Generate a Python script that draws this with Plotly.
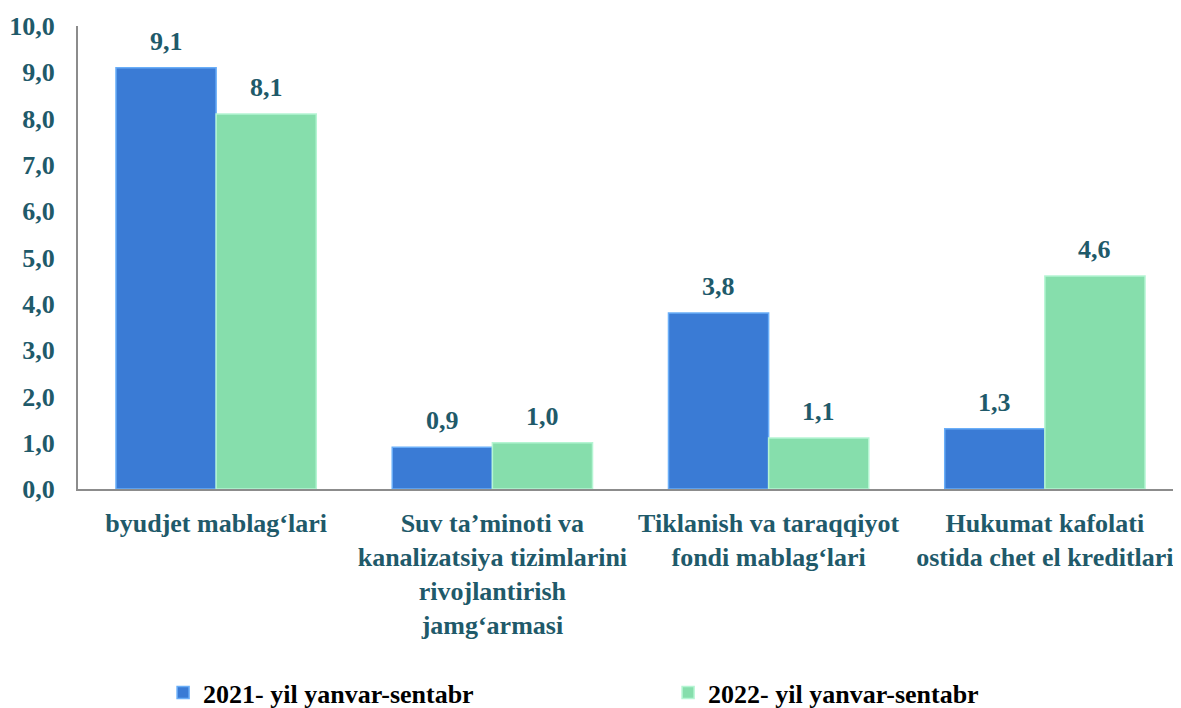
import plotly.graph_objects as go

categories = [
    "byudjet mablag‘lari",
    "Suv ta’minoti va<br>kanalizatsiya tizimlarini<br>rivojlantirish<br>jamg‘armasi",
    "Tiklanish va taraqqiyot<br>fondi mablag‘lari",
    "Hukumat kafolati<br>ostida chet el kreditlari",
]
series_names = ["2021- yil yanvar-sentabr", "2022- yil yanvar-sentabr"]
values_2021 = [9.1, 0.9, 3.8, 1.3]
values_2022 = [8.1, 1.0, 1.1, 4.6]
y_ticks = [0, 1, 2, 3, 4, 5, 6, 7, 8, 9, 10]

TEAL = "#1F5A6A"
FONT = "Liberation Serif"
FS = 26
colors = ["#3A7BD5", "#86DEAC"]
edge = ["#6AAEF8", "#B5F5D3"]

fig = go.Figure()
for name, vals, c, e in zip(series_names, [values_2021, values_2022], colors, edge):
    fig.add_trace(go.Bar(
        x=list(range(len(categories))), y=vals, name=f"<b>{name}</b>",
        marker=dict(color=c, line=dict(color=e, width=1.5)),
    ))

# value labels
for i, vals in enumerate([values_2021, values_2022]):
    shift = -50 if i == 0 else 50
    for xi, v in enumerate(vals):
        fig.add_annotation(
            x=xi, y=v, xshift=shift, yshift=10, yanchor="bottom", showarrow=False,
            text=f"<b>{v:.1f}</b>".replace(".", ","),
            font=dict(family=FONT, size=FS, color=TEAL),
        )

fig.update_layout(
    width=1181, height=708,
    margin=dict(l=70, r=6, t=18, b=227, autoexpand=False),
    plot_bgcolor="white", paper_bgcolor="white",
    barmode="group", bargap=0.275, bargroupgap=0,
    showlegend=True,
    legend=dict(
        orientation="h", x=0.077, xanchor="left", y=-0.44, yanchor="middle",
        font=dict(family=FONT, size=FS, color="black"),
        entrywidth=460, entrywidthmode="pixels",
        itemclick=False,
    ),
    xaxis=dict(
        tickmode="array", tickvals=list(range(len(categories))),
        ticktext=[f"<b>{c}</b>".replace("<br>", "</b><br><b>") for c in categories],
        range=[-0.5, 3.5], showline=True, linecolor="#8C8C8C", linewidth=2,
        showgrid=False, zeroline=False, ticks="",
        tickfont=dict(family=FONT, size=FS, color=TEAL),
        ticklabelstandoff=10,
    ),
    yaxis=dict(
        range=[0, 10], tickmode="array", tickvals=y_ticks,
        ticktext=[f"<b>{t:.1f}</b>".replace(".", ",") for t in y_ticks],
        showline=True, linecolor="#8C8C8C", linewidth=2,
        showgrid=False, zeroline=False, ticks="",
        tickfont=dict(family=FONT, size=FS, color=TEAL),
        ticklabelstandoff=16,
    ),
)

fig.write_html("out.html")
